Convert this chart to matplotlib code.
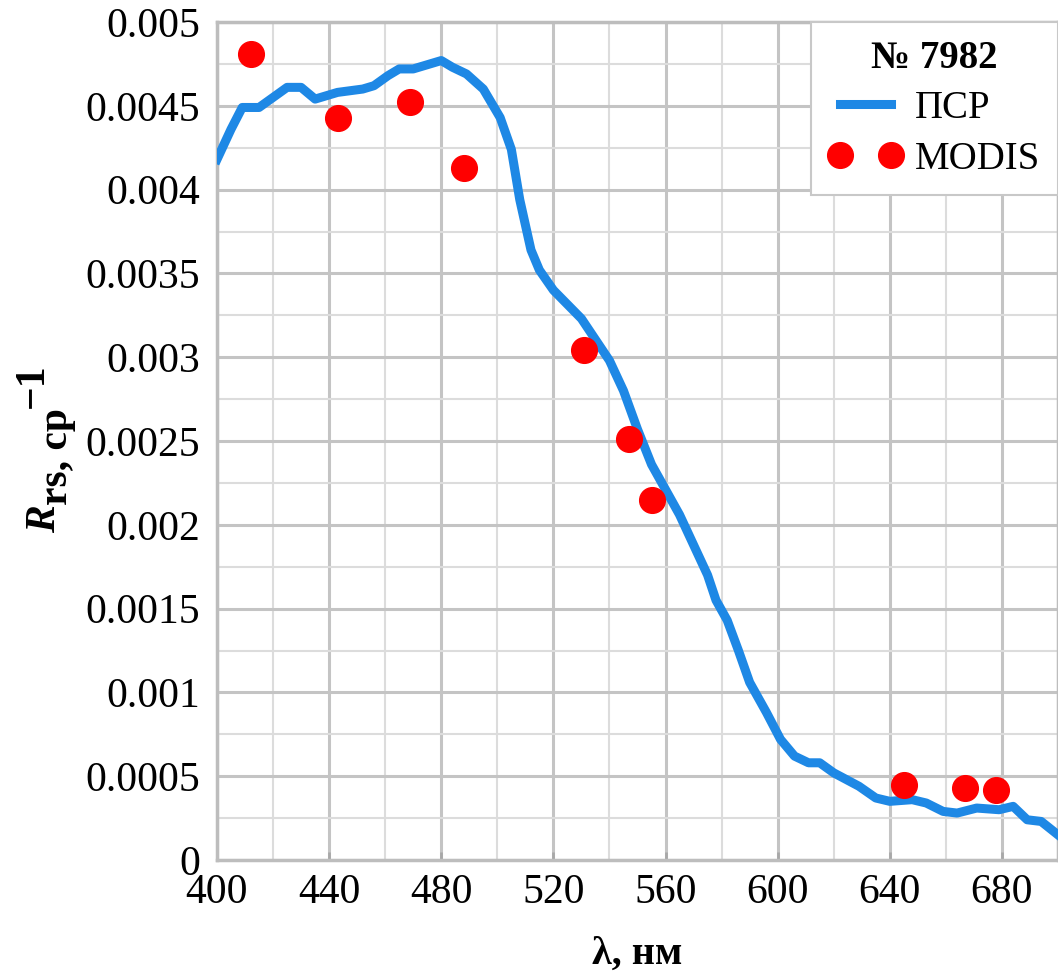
import matplotlib.pyplot as plt
from matplotlib.ticker import MultipleLocator, FixedLocator

plt.rcParams['font.family'] = ['Liberation Serif', 'DejaVu Serif']

# ПСР spectrum
wl = [400, 405, 409, 415, 425, 430, 435, 443, 452, 456, 461, 465, 470, 480, 484,
      489, 495, 501, 505, 508, 512, 515, 520, 530, 540, 545, 550, 555, 560, 565,
      570, 575, 578, 582, 586, 590, 596, 601, 606, 611, 615, 620, 629, 635, 640,
      648, 653, 659, 664, 671, 679, 684, 689, 694, 700]
rrs = [0.00418, 0.00436, 0.00449, 0.00449, 0.00461, 0.00461, 0.00454, 0.00458,
       0.00460, 0.00462, 0.00468, 0.00472, 0.00472, 0.00477, 0.00473, 0.00469,
       0.00460, 0.00443, 0.00424, 0.00394, 0.00364, 0.00352, 0.00340, 0.00323,
       0.00298, 0.00280, 0.00257, 0.00236, 0.00221, 0.00206, 0.00188, 0.00170,
       0.00155, 0.00143, 0.00125, 0.00106, 0.00088, 0.00072, 0.00062, 0.00058,
       0.00058, 0.00052, 0.00044, 0.00037, 0.00035, 0.00036, 0.00034, 0.00029,
       0.00028, 0.00031, 0.00030, 0.00032, 0.00024, 0.00023, 0.00015]

# MODIS bands
modis_wl = [412, 443, 469, 488, 531, 547, 555, 645, 667, 678]
modis_rrs = [0.00481, 0.00443, 0.00452, 0.00413, 0.00304, 0.00251, 0.00215,
             0.00045, 0.00043, 0.00042]

x_ticks = [400, 440, 480, 520, 560, 600, 640, 680]
y_ticks = [0, 0.0005, 0.001, 0.0015, 0.002, 0.0025, 0.003, 0.0035, 0.004, 0.0045, 0.005]
y_labels = ['0', '0.0005', '0.001', '0.0015', '0.002', '0.0025', '0.003',
            '0.0035', '0.004', '0.0045', '0.005']

W, H = 1058, 977
fig = plt.figure(figsize=(W / 100, H / 100), dpi=100)
ax = fig.add_axes([217 / W, 1 - 860 / H, 1 - 217 / W, (860 - 22) / H])

ax.plot(wl, rrs, color='#1E88E5', lw=6.5, label='ПСР', zorder=3)
ax.plot(modis_wl, modis_rrs, 'o', color='#FF0000', ms=18.5, mec='#FF0000',
        label='MODIS', zorder=4)

ax.set_xlim(400, 700)
ax.set_ylim(0, 0.005)
ax.xaxis.set_major_locator(FixedLocator(x_ticks))
ax.xaxis.set_minor_locator(MultipleLocator(20))
ax.yaxis.set_major_locator(FixedLocator(y_ticks))
ax.yaxis.set_minor_locator(MultipleLocator(0.00025))
ax.set_yticklabels(y_labels)

ax.grid(which='major', color='#c4c4c4', lw=2.2)
ax.grid(which='minor', color='#dcdcdc', lw=1.5)
ax.set_axisbelow(True)
for s in ax.spines.values():
    s.set_color('#bdbdbd')
    s.set_linewidth(2.5)

ax.tick_params(axis='both', which='both', length=0, labelsize=30, colors='black')
ax.tick_params(axis='x', which='major', direction='in', length=6, width=2,
               color='#a8a8a8', pad=10)
ax.tick_params(axis='y', pad=12)

ax.set_xlabel('λ, нм', fontsize=29, fontweight='bold', labelpad=17)

# y label: R (italic), "rs, ср" lowered, "−1" raised, all same size
renderer = fig.canvas.get_renderer()
pieces = [('R', 'italic', 0), ('rs, ср', 'normal', 12), ('−1', 'normal', -12)]
base_x, y_pos = 55, 533
for txt, style, shift in pieces:
    t = fig.text((base_x + shift) / W, 1 - y_pos / H, txt, rotation=90,
                 rotation_mode='anchor', ha='left', va='baseline',
                 fontsize=30, fontweight='bold', fontstyle=style)
    y_pos -= t.get_window_extent(renderer).height

leg = ax.legend(title='№ 7982', loc='upper right', numpoints=2, fontsize=28,
                title_fontproperties={'weight': 'bold', 'size': 28},
                frameon=True, fancybox=False, framealpha=1, edgecolor='#c8c8c8',
                borderaxespad=0, handlelength=1.9, handletextpad=0.33,
                borderpad=0.45, labelspacing=0.35)
leg.get_frame().set_linewidth(1.5)

fig.savefig('out.png', dpi=100)
